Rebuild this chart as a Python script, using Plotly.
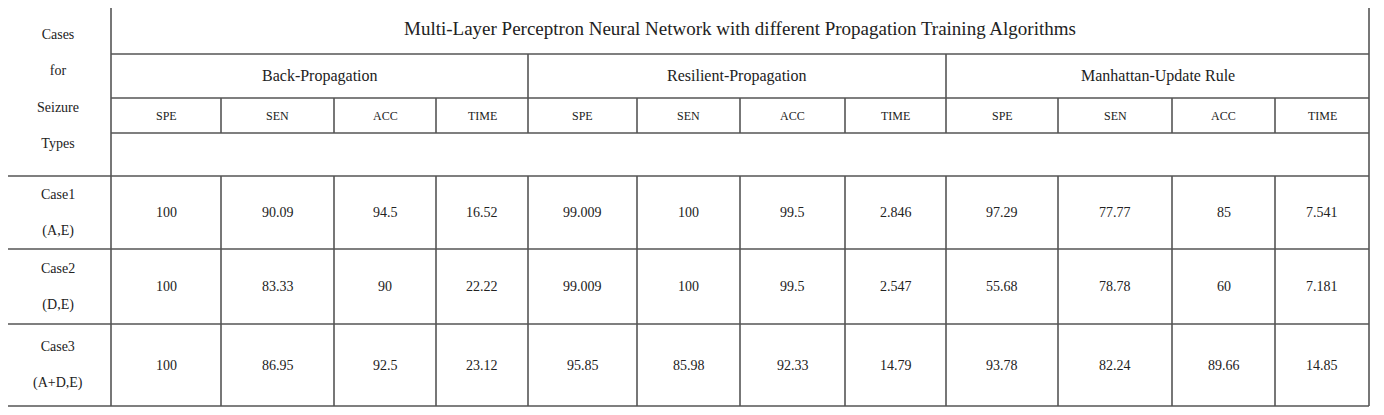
import plotly.graph_objects as go

title = "Multi-Layer Perceptron Neural Network with different Propagation Training Algorithms"
algorithms = ["Back-Propagation", "Resilient-Propagation", "Manhattan-Update Rule"]
metrics = ["SPE", "SEN", "ACC", "TIME"]
cases = ["Case1<br>(A,E)", "Case2<br>(D,E)", "Case3<br>(A+D,E)"]
back_prop = [["100", "90.09", "94.5", "16.52"],
             ["100", "83.33", "90", "22.22"],
             ["100", "86.95", "92.5", "23.12"]]
resilient_prop = [["99.009", "100", "99.5", "2.846"],
                  ["99.009", "100", "99.5", "2.547"],
                  ["95.85", "85.98", "92.33", "14.79"]]
manhattan = [["97.29", "77.77", "85", "7.541"],
             ["55.68", "78.78", "60", "7.181"],
             ["93.78", "82.24", "89.66", "14.85"]]

# grid geometry (pixels)
xcols = [111, 221, 334, 436, 528, 637, 740, 845, 946, 1058, 1172, 1275, 1369]
x_left = 4
y_top, y_title, y_group, y_sub, y_blank = 2, 54, 98, 133, 176
y_rows = [176, 249, 324, 406]
line = dict(color="#555", width=1.6)

fig = go.Figure()
shapes = []
def seg(x0, y0, x1, y1):
    shapes.append(dict(type="line", x0=x0, y0=y0, x1=x1, y1=y1, line=line))

# outer border
seg(x_left, y_top, xcols[-1], y_top)
seg(x_left, y_rows[-1], xcols[-1], y_rows[-1])
seg(x_left, y_top, x_left, y_rows[-1])
seg(xcols[-1], y_top, xcols[-1], y_rows[-1])
seg(xcols[0], y_top, xcols[0], y_rows[-1])
# header horizontals
for y in [y_title, y_group, y_sub]:
    seg(xcols[0], y, xcols[-1], y)
for y in y_rows[:-1]:
    seg(x_left, y, xcols[-1], y)
# verticals (none in the blank row)
for i, x in enumerate(xcols[1:-1], start=1):
    if i % 4 == 0:
        seg(x, y_title, x, y_sub)
    else:
        seg(x, y_group, x, y_sub)
    seg(x, y_blank, x, y_rows[-1])

ann = []
def txt(x, y, s, size):
    ann.append(dict(x=x, y=y, text=s, showarrow=False, xref="x", yref="y",
                    font=dict(family="Liberation Serif", size=size, color="#222")))

txt((xcols[0] + xcols[-1]) / 2, (y_top + y_title) / 2, title, 19)
txt((x_left + xcols[0]) / 2, (y_top + y_blank) / 2,
    "Cases<br><br>for<br><br>Seizure<br><br>Types", 14)
for g, name in enumerate(algorithms):
    txt((xcols[4 * g] + xcols[4 * g + 4]) / 2, (y_title + y_group) / 2, name, 16)
    for m, met in enumerate(metrics):
        txt((xcols[4 * g + m] + xcols[4 * g + m + 1]) / 2, (y_group + y_sub) / 2, met, 12)
for r, case in enumerate(cases):
    yc = (y_rows[r] + y_rows[r + 1]) / 2
    txt((x_left + xcols[0]) / 2, yc, case.replace("<br>", "<br><br>"), 14)
    for g, data in enumerate([back_prop, resilient_prop, manhattan]):
        for m, v in enumerate(data[r]):
            txt((xcols[4 * g + m] + xcols[4 * g + m + 1]) / 2, yc, v, 14)

# page body adds an 8px offset, so the axes start at 8
fig.update_layout(width=1384, height=415, margin=dict(l=0, r=0, t=0, b=0),
                  plot_bgcolor="white", paper_bgcolor="white",
                  shapes=shapes, annotations=ann, showlegend=False)
fig.update_xaxes(range=[8, 1392], visible=False)
fig.update_yaxes(range=[423, 8], visible=False)
fig.write_html("out.html")
